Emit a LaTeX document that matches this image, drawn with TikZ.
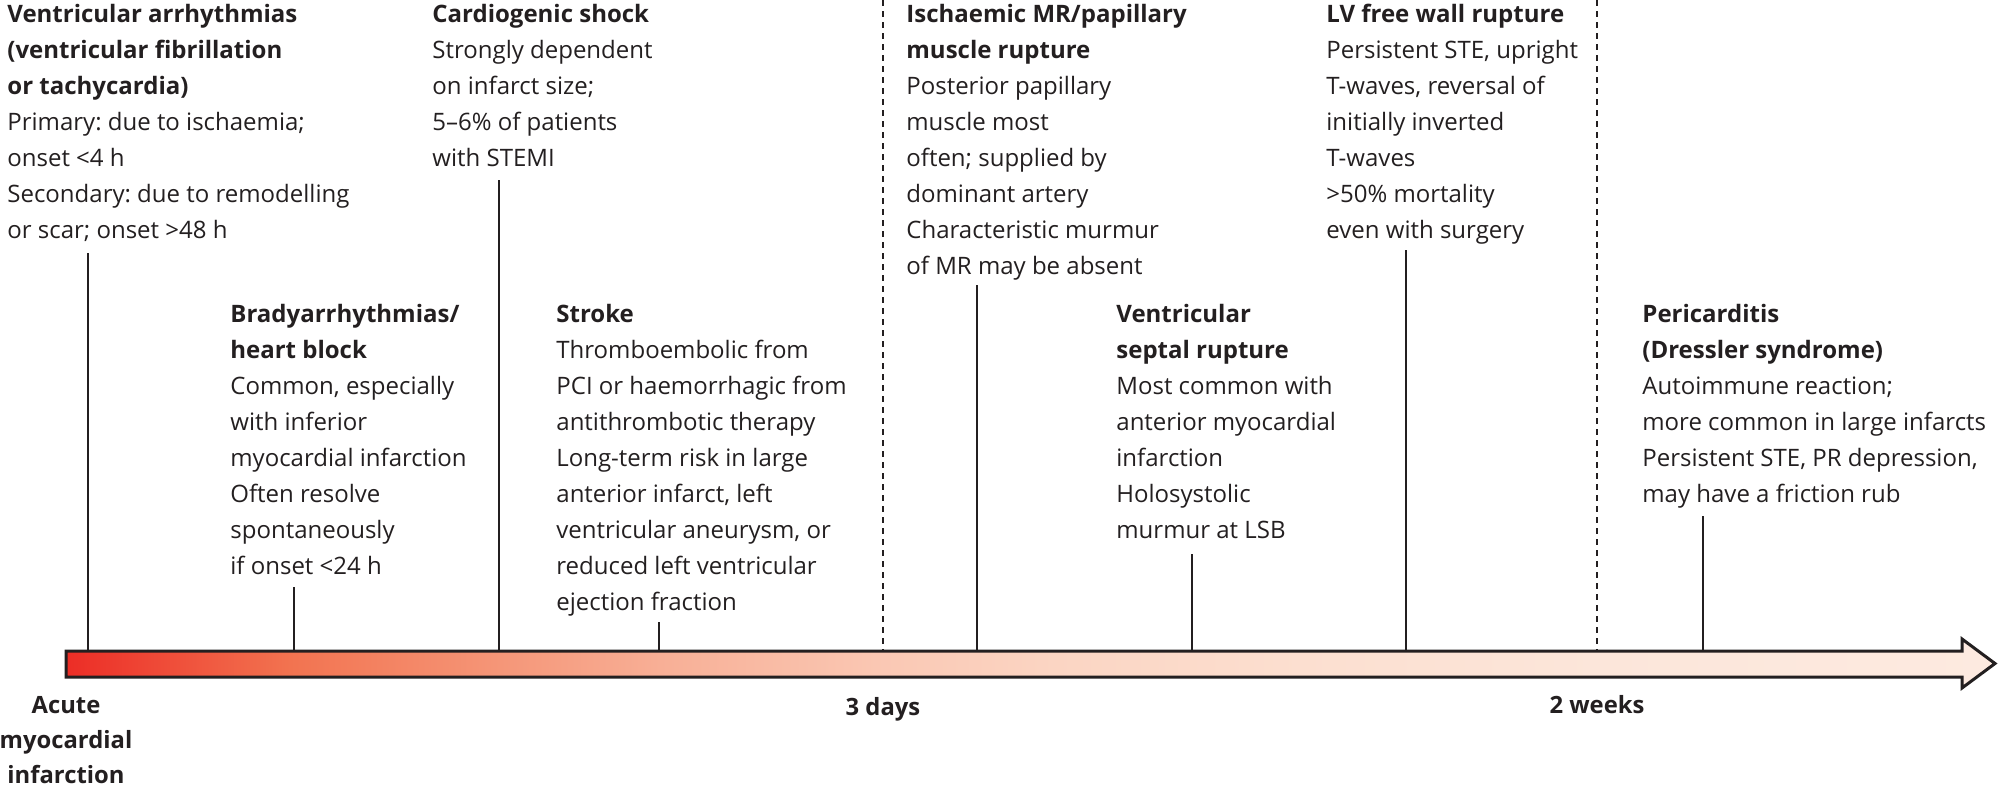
\documentclass[tikz,border=0pt]{standalone}
\usepackage{fontspec}
\setmainfont{Open Sans}
\definecolor{ink}{RGB}{35,31,32}
\definecolor{ga}{RGB}{236,45,38}
\definecolor{gb}{RGB}{242,115,80}
\definecolor{gc}{RGB}{245,150,120}
\definecolor{gd}{RGB}{248,175,150}
\definecolor{ge}{RGB}{250,200,180}
\definecolor{gf}{RGB}{251,213,195}
\definecolor{gg}{RGB}{252,223,208}
\definecolor{gh}{RGB}{252,230,218}
\definecolor{gi}{RGB}{253,234,224}
\pgfdeclarehorizontalshading{timegrad}{100bp}{color(0bp)=(ga); color(25bp)=(ga); color(30.8bp)=(gb); color(36.25bp)=(gc); color(40.4bp)=(gd); color(46.2bp)=(ge); color(50.6bp)=(gf); color(57bp)=(gg); color(64.7bp)=(gh); color(75bp)=(gi); color(100bp)=(gi)}
\frenchspacing
\begin{document}
\begin{tikzpicture}[x=0.5pt,y=-0.5pt,
  txt/.style={anchor=north west, inner sep=0pt, align=left, text=ink, font=\fontsize{12}{18}\selectfont},
  axislbl/.style={inner sep=0pt, align=center, text=ink, font=\bfseries\fontsize{11.9}{17.5}\selectfont},
  tick/.style={draw=ink, line width=1pt},
  dashline/.style={draw=ink, line width=1pt, dash pattern=on 3pt off 2.5pt},
  timebar/.style={draw=ink, line width=1.5pt, line join=miter, shade, shading=timegrad}]
\useasboundingbox (0,0) rectangle (2000,787);

% upper row
\node[txt] (va) at (7,4) {\textbf{Ventricular arrhythmias}\\\textbf{(ventricular fibrillation}\\\textbf{or tachycardia)}\\Primary: due to ischaemia;\\onset <4 h\\Secondary: due to remodelling\\or scar; onset >48 h};
\node[txt] (cs) at (432,4) {\textbf{Cardiogenic shock}\\Strongly dependent\\on infarct size;\\5–6\% of patients\\with STEMI};
\node[txt] (mr) at (906,4) {\textbf{Ischaemic MR/papillary}\\\textbf{muscle rupture}\\Posterior papillary\\muscle most\\often; supplied by\\dominant artery\\Characteristic murmur\\of MR may be absent};
\node[txt] (lv) at (1326,4) {\textbf{LV free wall rupture}\\Persistent STE, upright\\T-waves, reversal of\\initially inverted\\T-waves\\>50\% mortality\\even with surgery};

% lower row
\node[txt] (br) at (230,304) {\textbf{Bradyarrhythmias/}\\\textbf{heart block}\\Common, especially\\with inferior\\myocardial infarction\\Often resolve\\spontaneously\\if onset <24 h};
\node[txt] (st) at (556,304) {\textbf{Stroke}\\Thromboembolic from\\PCI or haemorrhagic from\\antithrombotic therapy\\Long-term risk in large\\anterior infarct, left\\ventricular aneurysm, or\\reduced left ventricular\\ejection fraction};
\node[txt] (vs) at (1116,304) {\textbf{Ventricular}\\\textbf{septal rupture}\\Most common with\\anterior myocardial\\infarction\\Holosystolic\\murmur at LSB};
\node[txt] (pc) at (1642,304) {\textbf{Pericarditis}\\\textbf{(Dressler syndrome)}\\Autoimmune reaction;\\more common in large infarcts\\Persistent STE, PR depression,\\may have a friction rub};

% bar reference and tick tops
\coordinate (barTL) at (66,651);
\coordinate (vaT) at (88,253);
\coordinate (csT) at (499,180);
\coordinate (mrT) at (977,285);
\coordinate (lvT) at (1406,250);
\coordinate (brT) at (294,587);
\coordinate (stT) at (659,622);
\coordinate (vsT) at (1192,554);
\coordinate (pcT) at (1703,516);
\coordinate (d3T) at (883,0);
\coordinate (w2T) at (1597,0);

\foreach \t in {vaT,csT,mrT,lvT,brT,stT,vsT,pcT}
  \draw[tick] (\t) -- (\t |- barTL);
\draw[dashline] (d3T) -- (d3T |- barTL);
\draw[dashline] (w2T) -- (w2T |- barTL);

% time arrow
\path[timebar] (66,651) -- (1962,651) -- (1962,639) -- (1995,663.5) -- (1962,688) -- (1962,677) -- (66,677) -- cycle;

% axis labels
\node[axislbl, anchor=north] (ami) at (66,696) {Acute\\myocardial\\infarction};
\node[axislbl, anchor=base] (d3) at (883,715) {3 days};
\node[axislbl, anchor=base] (w2) at (1597,713) {2 weeks};
\end{tikzpicture}
\end{document}
